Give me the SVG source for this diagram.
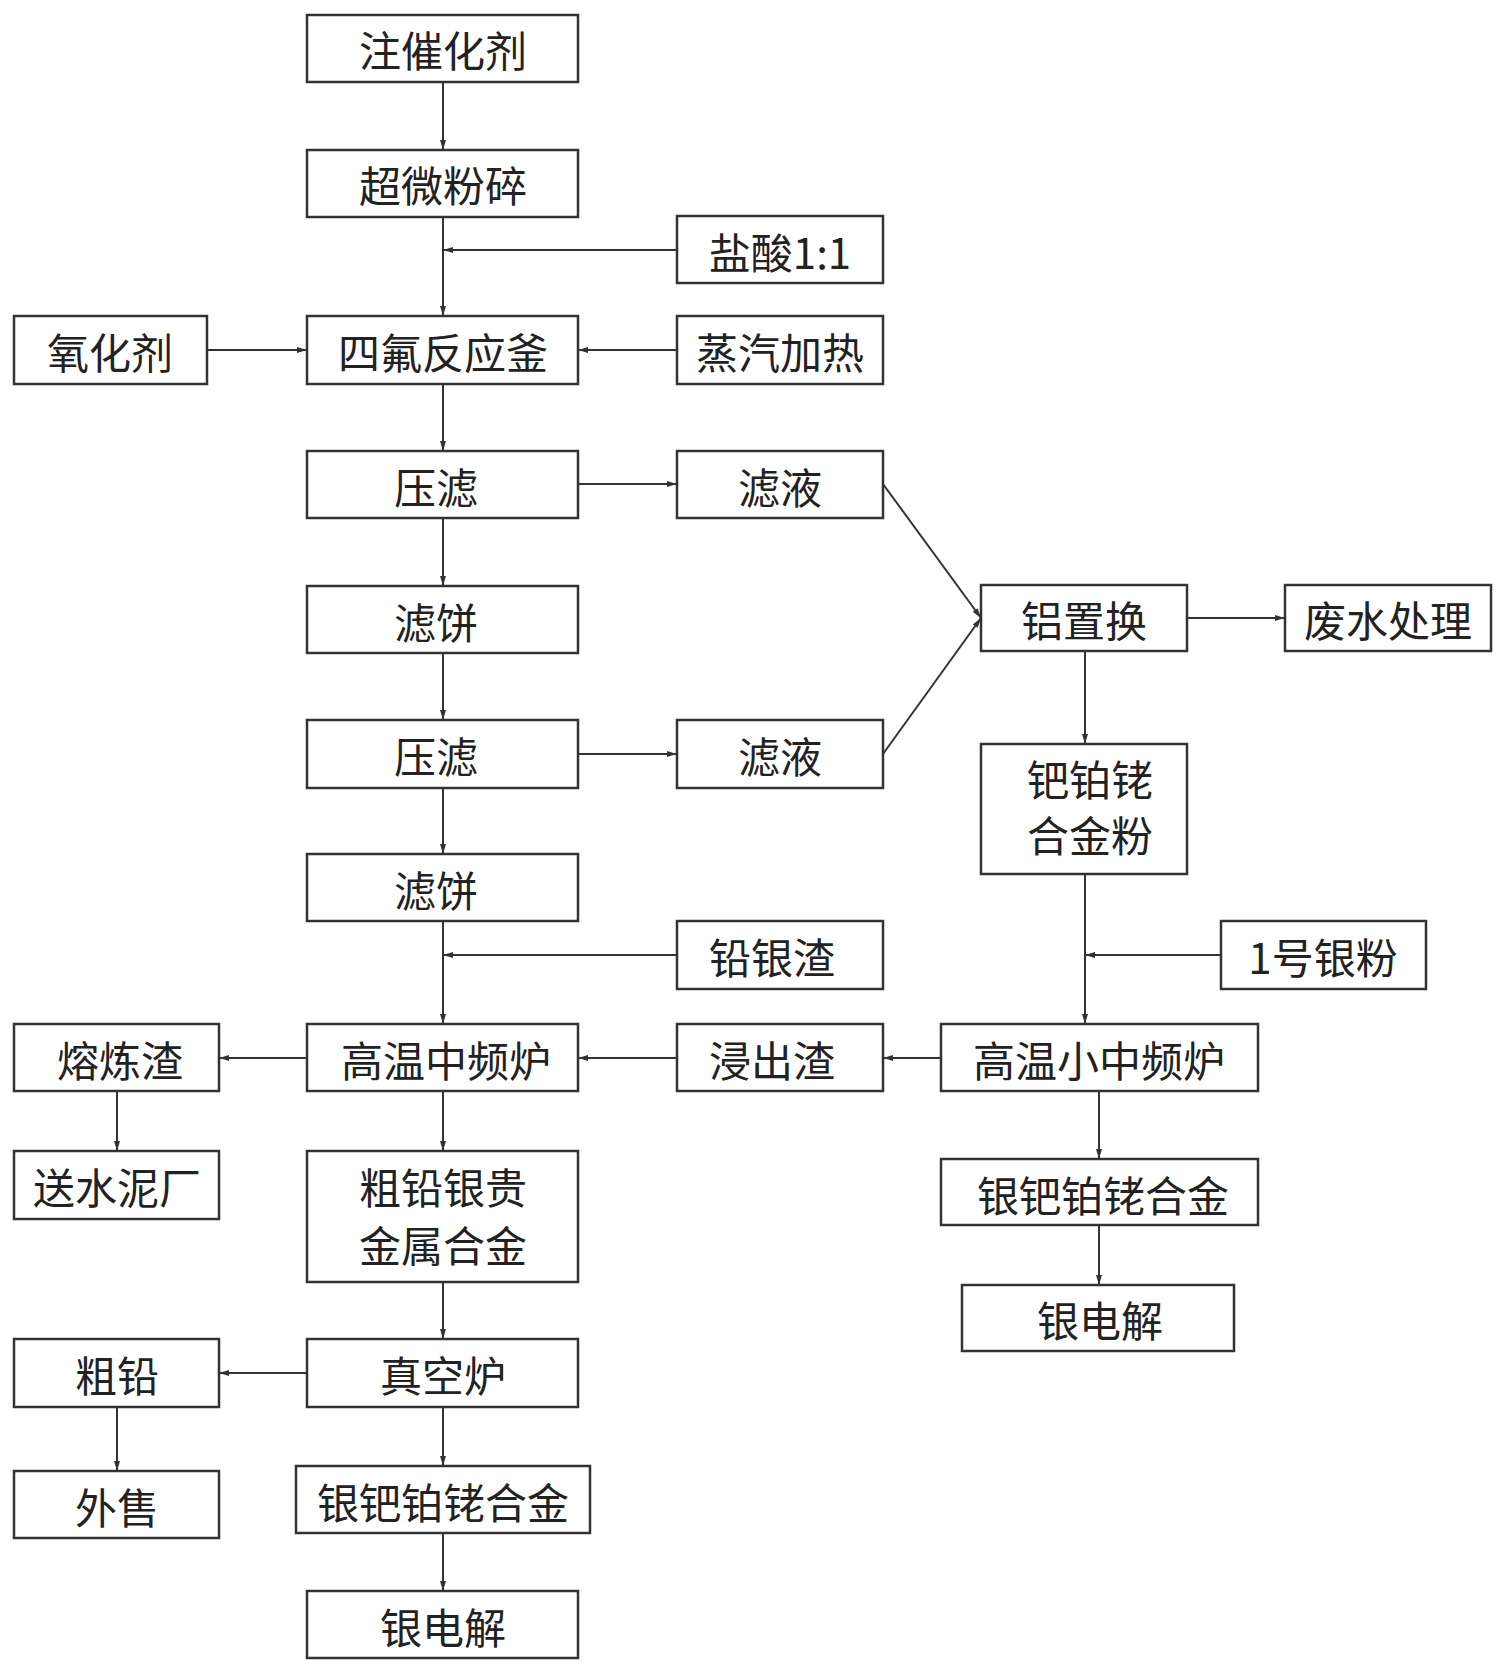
<svg xmlns="http://www.w3.org/2000/svg" width="1507" height="1676" viewBox="0 0 1507 1676">
<style>
rect{fill:#fff;stroke:#333;stroke-width:2.5}
text{font-family:"Noto Sans CJK SC","Liberation Sans",sans-serif;font-size:42px;fill:#222;text-anchor:middle;dominant-baseline:central}
.c line,.c polyline{stroke:#333;stroke-width:2;fill:none;marker-end:url(#a)}
</style>
<defs><marker id="a" viewBox="0 0 10 6" refX="10" refY="3" markerWidth="10" markerHeight="6" markerUnits="userSpaceOnUse" orient="auto"><path d="M0,0L10,3L0,6z" fill="#333"/></marker></defs>
<rect width="1507" height="1676" style="fill:#fff;stroke:none"/>
<g id="n1"><rect x="307" y="15" width="271" height="67"/><text x="443" y="48">注催化剂</text></g>
<g id="n2"><rect x="307" y="150" width="271" height="67"/><text x="443" y="183">超微粉碎</text></g>
<g id="n3"><rect x="677" y="216" width="206" height="67"/><text x="780" y="250">盐酸1:1</text></g>
<g id="n4"><rect x="307" y="316" width="271" height="68"/><text x="443" y="350">四氟反应釜</text></g>
<g id="n5"><rect x="14" y="316" width="193" height="68"/><text x="110" y="350">氧化剂</text></g>
<g id="n6"><rect x="677" y="316" width="206" height="68"/><text x="780" y="350">蒸汽加热</text></g>
<g id="n7"><rect x="307" y="451" width="271" height="67"/><text x="436" y="485">压滤</text></g>
<g id="n8"><rect x="677" y="451" width="206" height="67"/><text x="780" y="485">滤液</text></g>
<g id="n9"><rect x="307" y="586" width="271" height="67"/><text x="436" y="620">滤饼</text></g>
<g id="n10"><rect x="307" y="720" width="271" height="68"/><text x="436" y="754">压滤</text></g>
<g id="n11"><rect x="677" y="720" width="206" height="68"/><text x="780" y="754">滤液</text></g>
<g id="n12"><rect x="981" y="585" width="206" height="66"/><text x="1084" y="618">铝置换</text></g>
<g id="n13"><rect x="1285" y="585" width="206" height="66"/><text x="1388" y="618">废水处理</text></g>
<g id="n14"><rect x="981" y="744" width="206" height="130"/><text x="1090" y="777">钯铂铑</text><text x="1090" y="833">合金粉</text></g>
<g id="n15"><rect x="307" y="854" width="271" height="67"/><text x="436" y="888">滤饼</text></g>
<g id="n16"><rect x="677" y="921" width="206" height="68"/><text x="772" y="955">铅银渣</text></g>
<g id="n17"><rect x="1221" y="921" width="205" height="68"/><text x="1323" y="955">1号银粉</text></g>
<g id="n18"><rect x="307" y="1024" width="271" height="67"/><text x="446" y="1058">高温中频炉</text></g>
<g id="n19"><rect x="14" y="1024" width="205" height="67"/><text x="120" y="1058">熔炼渣</text></g>
<g id="n20"><rect x="677" y="1024" width="206" height="67"/><text x="772" y="1058">浸出渣</text></g>
<g id="n21"><rect x="941" y="1024" width="317" height="67"/><text x="1099" y="1058">高温小中频炉</text></g>
<g id="n22"><rect x="14" y="1151" width="205" height="68"/><text x="117" y="1185">送水泥厂</text></g>
<g id="n23"><rect x="307" y="1151" width="271" height="131"/><text x="443" y="1185">粗铅银贵</text><text x="443" y="1243">金属合金</text></g>
<g id="n24"><rect x="941" y="1159" width="317" height="66"/><text x="1103" y="1193">银钯铂铑合金</text></g>
<g id="n25"><rect x="962" y="1285" width="272" height="66"/><text x="1100" y="1318">银电解</text></g>
<g id="n26"><rect x="307" y="1339" width="271" height="68"/><text x="443" y="1373">真空炉</text></g>
<g id="n27"><rect x="14" y="1339" width="205" height="68"/><text x="117" y="1373">粗铅</text></g>
<g id="n28"><rect x="14" y="1471" width="205" height="67"/><text x="117" y="1505">外售</text></g>
<g id="n29"><rect x="296" y="1466" width="294" height="67"/><text x="443" y="1500">银钯铂铑合金</text></g>
<g id="n30"><rect x="307" y="1591" width="271" height="67"/><text x="443" y="1625">银电解</text></g>
<g class="c">
<line x1="443" y1="82" x2="443" y2="150"/>
<line x1="443" y1="217" x2="443" y2="316"/>
<line x1="677" y1="250" x2="443" y2="250"/>
<line x1="207" y1="350" x2="307" y2="350"/>
<line x1="677" y1="350" x2="578" y2="350"/>
<line x1="443" y1="384" x2="443" y2="451"/>
<line x1="578" y1="484" x2="677" y2="484"/>
<line x1="443" y1="518" x2="443" y2="586"/>
<line x1="443" y1="653" x2="443" y2="720"/>
<line x1="578" y1="754" x2="677" y2="754"/>
<polyline points="883,484 981,618"/>
<polyline points="883,754 981,618"/>
<line x1="1187" y1="618" x2="1285" y2="618"/>
<line x1="1085" y1="651" x2="1085" y2="744"/>
<line x1="443" y1="788" x2="443" y2="854"/>
<line x1="443" y1="921" x2="443" y2="1024"/>
<line x1="677" y1="955" x2="443" y2="955"/>
<line x1="1085" y1="874" x2="1085" y2="1024"/>
<line x1="1221" y1="955" x2="1085" y2="955"/>
<line x1="941" y1="1058" x2="883" y2="1058"/>
<line x1="677" y1="1058" x2="578" y2="1058"/>
<line x1="307" y1="1058" x2="219" y2="1058"/>
<line x1="117" y1="1091" x2="117" y2="1151"/>
<line x1="443" y1="1091" x2="443" y2="1151"/>
<line x1="1099" y1="1091" x2="1099" y2="1159"/>
<line x1="1099" y1="1225" x2="1099" y2="1285"/>
<line x1="443" y1="1282" x2="443" y2="1339"/>
<line x1="307" y1="1373" x2="219" y2="1373"/>
<line x1="117" y1="1407" x2="117" y2="1471"/>
<line x1="443" y1="1407" x2="443" y2="1466"/>
<line x1="443" y1="1533" x2="443" y2="1591"/>
</g>
</svg>
